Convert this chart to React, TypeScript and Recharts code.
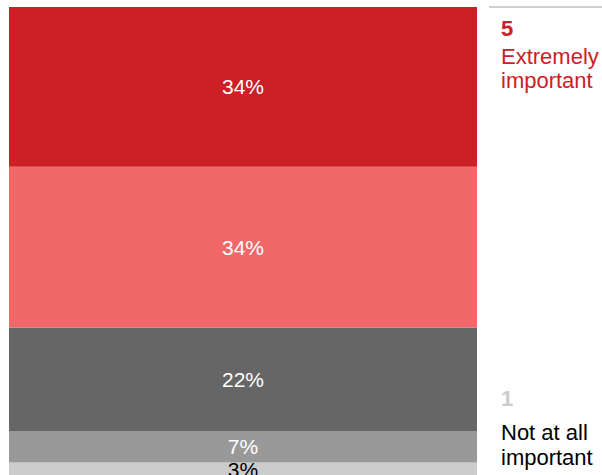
import React from "react";
import { BarChart, Bar, XAxis, YAxis, LabelList } from "recharts";

const categories = ["All"];
const levels = ["1", "2", "3", "4", "5"];
const values = [3.1, 6.6, 22.1, 34.2, 34.0]; // level 1 .. level 5 (bottom to top)
const colors = ["#cccccc", "#999999", "#666666", "#f26868", "#cc2027"];
const labelColors = ["#000000", "#ffffff", "#ffffff", "#ffffff", "#ffffff"];
const topLabel = { num: "5", text: ["Extremely", "important"] };
const bottomLabel = { num: "1", text: ["Not at all", "important"] };

const data = categories.map((c) => {
  const row: Record<string, any> = { name: c };
  levels.forEach((l, i) => (row["v" + l] = values[i]));
  return row;
});

const font = "'Liberation Sans', Arial, sans-serif";

export default function App() {
  return (
    <div style={{ position: "absolute", left: 0, top: 0, width: 602, height: 475, overflow: "hidden", fontFamily: font }}>
      <BarChart
        width={602}
        height={477}
        data={data}
        margin={{ top: 7, right: 125, bottom: 0, left: 9 }}
        barCategoryGap="0%"
      >
        <XAxis dataKey="name" hide />
        <YAxis hide domain={[0, 100]} />
        {levels.map((l, i) => (
          <Bar key={l} dataKey={"v" + l} stackId="s" fill={colors[i]} isAnimationActive={false}>
            <LabelList
              dataKey={"v" + l}
              position="center"
              formatter={(v: any) => Math.round(Number(v)) + "%"}
              fill={labelColors[i]}
              style={{ fontSize: 21, fontFamily: font }}
            />
          </Bar>
        ))}
      </BarChart>
      <div style={{ position: "absolute", left: 489, top: 6, width: 113, height: 0, borderTop: "2px solid #d0d0d0" }} />
      <div style={{ position: "absolute", left: 501, top: 17, fontSize: 22, lineHeight: "24px", color: "#cc2027" }}>
        <div style={{ fontWeight: "bold", marginBottom: 4 }}>{topLabel.num}</div>
        {topLabel.text.map((t) => (
          <div key={t}>{t}</div>
        ))}
      </div>
      <div style={{ position: "absolute", left: 501, top: 386, fontSize: 22, lineHeight: "25px", color: "#000" }}>
        <div style={{ fontWeight: "bold", color: "#cccccc", marginBottom: 9 }}>{bottomLabel.num}</div>
        {bottomLabel.text.map((t) => (
          <div key={t}>{t}</div>
        ))}
      </div>
    </div>
  );
}
